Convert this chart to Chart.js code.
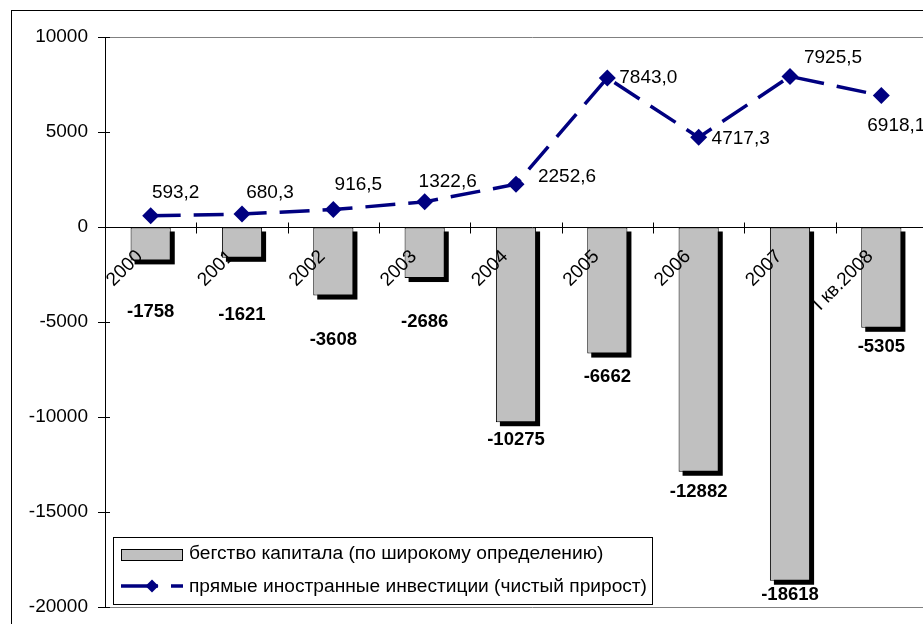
<!DOCTYPE html>
<html>
<head>
<meta charset="utf-8">
<script src="https://cdn.jsdelivr.net/npm/chart.js@4/dist/chart.umd.min.js"></script>
<style>
  html, body { margin: 0; padding: 0; background: #fff; overflow: hidden; }
  #wrap { position: absolute; left: 0; top: 0; width: 960px; height: 640px; }
</style>
</head>
<body>
<div id="wrap"><canvas id="c" width="960" height="640"></canvas></div>
<script>
// Capital flight vs. net foreign direct investment, mln USD
const categories = ['2000', '2001', '2002', '2003', '2004', '2005', '2006', '2007', 'I кв.2008'];
const capitalFlight = [-1758, -1621, -3608, -2686, -10275, -6662, -12882, -18618, -5305];
const fdiNet = [593.2, 680.3, 916.5, 1322.6, 2252.6, 7843.0, 4717.3, 7925.5, 6918.1];
const yTicks = [10000, 5000, 0, -5000, -10000, -15000, -20000];
const seriesNames = [
  'бегство капитала (по широкому определению)',
  'прямые иностранные инвестиции (чистый прирост)'
];

// label placement (pixels relative to the mark)
const lineLabelShift = [[25, -23], [28, -21], [25, -25], [23, -20], [51, -7], [41, 0], [42, 1], [43, -19], [15, 30]];
const barLabelGap = [52, 57, 44, 44, 18, 23, 20, 14, 19];

const FONT = '"Liberation Sans", Arial, sans-serif';
const NAVY = '#000080';
const BAR_GRAY = '#C0C0C0';

const fmtComma = v => v.toFixed(1).replace('.', ',');

const frame = {
  id: 'frame',
  beforeDraw(chart) {
    const { ctx, chartArea: a } = chart;
    ctx.save();
    ctx.fillStyle = '#fff';
    ctx.fillRect(0, 0, chart.width, chart.height);
    ctx.strokeStyle = '#000';
    ctx.lineWidth = 1;
    ctx.strokeRect(11.5, 10.5, chart.width + 20, chart.height + 20);
    ctx.strokeStyle = '#808080';
    ctx.beginPath();
    ctx.moveTo(a.left, Math.round(a.top) + 0.5);
    ctx.lineTo(chart.width, Math.round(a.top) + 0.5);
    ctx.moveTo(a.left, Math.round(a.bottom) + 0.5);
    ctx.lineTo(chart.width, Math.round(a.bottom) + 0.5);
    ctx.stroke();
    // right half of the crossing ticks on the value axis
    const ys = chart.scales.y;
    ctx.strokeStyle = '#000';
    ctx.beginPath();
    yTicks.forEach(v => {
      const py = Math.round(ys.getPixelForValue(v)) + 0.5;
      ctx.moveTo(a.left, py);
      ctx.lineTo(a.left + 5, py);
    });
    ctx.stroke();
    ctx.restore();
  }
};

const barDecor = {
  id: 'barDecor',
  beforeDatasetDraw(chart, args) {
    if (args.meta.type !== 'bar') return;
    const ctx = chart.ctx;
    ctx.save();
    ctx.fillStyle = '#000';
    args.meta.data.forEach(el => {
      const top = Math.min(el.y, el.base);
      const h = Math.abs(el.y - el.base);
      ctx.fillRect(el.x - el.width / 2 + 4, top + 4, el.width, h);
    });
    ctx.restore();
  },
  afterDatasetDraw(chart, args) {
    if (args.meta.type !== 'bar') return;
    const { ctx, chartArea: a } = chart;
    const xs = chart.scales.x, ys = chart.scales.y;
    const zeroY = Math.round(ys.getPixelForValue(0)) + 0.5;
    const step = (a.right - a.left) / categories.length;
    ctx.save();
    // category axis at zero with crossing ticks
    ctx.strokeStyle = '#000';
    ctx.lineWidth = 1;
    ctx.beginPath();
    ctx.moveTo(a.left, zeroY);
    ctx.lineTo(chart.width, zeroY);
    for (let k = 1; k <= categories.length; k++) {
      const px = Math.round(a.left + k * step) + 0.5;
      ctx.moveTo(px, zeroY - 5);
      ctx.lineTo(px, zeroY + 6);
    }
    ctx.stroke();
    // rotated category labels
    ctx.fillStyle = '#000';
    ctx.font = '19px ' + FONT;
    ctx.textAlign = 'right';
    ctx.textBaseline = 'middle';
    categories.forEach((c, i) => {
      const px = xs.getPixelForValue(i);
      ctx.save();
      ctx.translate(px - 11, zeroY + 26);
      ctx.rotate(-Math.PI / 4);
      ctx.fillText(c, 0, 0);
      ctx.restore();
    });
    // bar value labels
    ctx.font = 'bold 18.5px ' + FONT;
    ctx.textAlign = 'center';
    args.meta.data.forEach((el, i) => {
      ctx.fillText(String(capitalFlight[i]), el.x, el.y + barLabelGap[i]);
    });
    ctx.restore();
  }
};

const lineLabels = {
  id: 'lineLabels',
  afterDatasetsDraw(chart) {
    const meta = chart.getDatasetMeta(1);
    const ctx = chart.ctx;
    ctx.save();
    ctx.fillStyle = '#000';
    ctx.font = '19px ' + FONT;
    ctx.textAlign = 'center';
    ctx.textBaseline = 'middle';
    meta.data.forEach((el, i) => {
      const [dx, dy] = lineLabelShift[i];
      ctx.fillText(fmtComma(fdiNet[i]), el.x + dx, el.y + dy);
    });
    ctx.restore();
  }
};

const boxLegend = {
  id: 'boxLegend',
  afterDraw(chart) {
    const ctx = chart.ctx;
    ctx.save();
    ctx.fillStyle = '#fff';
    ctx.fillRect(113.5, 537.5, 539, 67);
    ctx.strokeStyle = '#000';
    ctx.lineWidth = 1;
    ctx.strokeRect(113.5, 537.5, 539, 67);
    // bar swatch
    ctx.fillStyle = BAR_GRAY;
    ctx.fillRect(121.5, 549.5, 61, 11);
    ctx.strokeRect(121.5, 549.5, 61, 11);
    // line swatch
    ctx.strokeStyle = NAVY;
    ctx.lineWidth = 3.5;
    ctx.beginPath();
    ctx.moveTo(121, 586);
    ctx.lineTo(158, 586);
    ctx.moveTo(171, 586);
    ctx.lineTo(183, 586);
    ctx.stroke();
    ctx.fillStyle = NAVY;
    ctx.beginPath();
    ctx.moveTo(152, 579.5);
    ctx.lineTo(158.5, 586);
    ctx.lineTo(152, 592.5);
    ctx.lineTo(145.5, 586);
    ctx.closePath();
    ctx.fill();
    ctx.fillStyle = '#000';
    ctx.font = '19.2px ' + FONT;
    ctx.textAlign = 'left';
    ctx.textBaseline = 'middle';
    ctx.fillText(chart.data.datasets[0].label, 189, 554);
    ctx.fillText(chart.data.datasets[1].label, 189, 587, 458);
    ctx.restore();
  }
};

new Chart(document.getElementById('c'), {
  type: 'bar',
  data: {
    labels: categories,
    datasets: [
      {
        type: 'bar',
        label: seriesNames[0],
        data: capitalFlight,
        backgroundColor: BAR_GRAY,
        borderColor: '#000',
        borderWidth: 1,
        borderSkipped: false,
        barPercentage: 0.44,
        categoryPercentage: 1,
        order: 2
      },
      {
        type: 'line',
        label: seriesNames[1],
        data: fdiNet,
        borderColor: NAVY,
        borderWidth: 3.5,
        borderDash: [30, 13],
        tension: 0,
        fill: false,
        pointStyle: 'rectRot',
        pointRadius: 8.5,
        pointBackgroundColor: NAVY,
        pointBorderColor: NAVY,
        pointBorderWidth: 0,
        order: 1
      }
    ]
  },
  options: {
    responsive: false,
    animation: false,
    events: [],
    layout: { padding: { left: 0, top: 37, right: 33, bottom: 33 } },
    plugins: { legend: { display: false }, tooltip: { enabled: false }, title: { display: false } },
    scales: {
      x: { type: 'category', display: false, offset: true },
      y: {
        min: -20000,
        max: 10000,
        afterBuildTicks(scale) { scale.ticks = yTicks.map(v => ({ value: v })); },
        afterFit(scale) { scale.width = 105; },
        ticks: {
          color: '#000',
          font: { family: FONT, size: 19 },
          padding: 10,
          callback: v => String(v)
        },
        grid: { drawOnChartArea: false, drawTicks: true, tickLength: 7, color: '#000' },
        border: { display: true, color: '#000', width: 1 }
      }
    }
  },
  plugins: [frame, barDecor, lineLabels, boxLegend]
});
</script>
</body>
</html>
